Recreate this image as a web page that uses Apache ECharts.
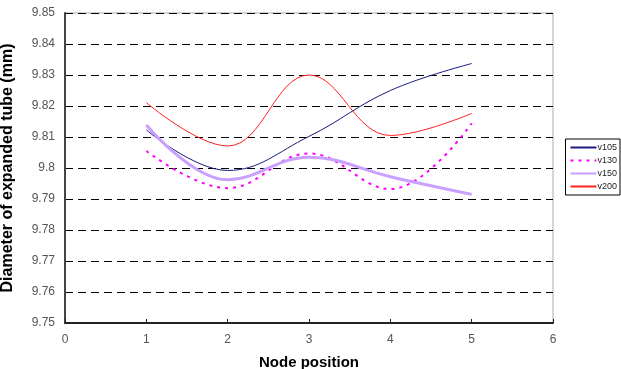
<!DOCTYPE html>
<html>
<head>
<meta charset="utf-8">
<script src="https://cdn.jsdelivr.net/npm/echarts@6/dist/echarts.min.js"></script>
<style>
  html, body { margin: 0; padding: 0; background: #fff; }
  #chart { width: 621px; height: 369px; }
</style>
</head>
<body>
<div id="chart"></div>
<script>
// node positions on the x axis
const positions = [1, 2, 3, 4, 5];

// tube diameters (mm)
const v105 = [9.8123, 9.7992, 9.8102, 9.8250, 9.8337];
const v130 = [9.8055, 9.7935, 9.8047, 9.7932, 9.8144];
const v150 = [9.8139, 9.7962, 9.8035, 9.7972, 9.7915];
const v200 = [9.8211, 9.8071, 9.8300, 9.8105, 9.8176];

const seriesNames = ['v105', 'v130', 'v150', 'v200'];

function pairs(vals) {
    return positions.map((p, i) => [p, vals[i]]);
}

const chart = echarts.init(document.getElementById('chart'));

const font = 'Liberation Sans, Arial, sans-serif';
const tickFont = { color: '#555', fontSize: 12, fontFamily: font };

chart.setOption({
    backgroundColor: '#fff',
    animation: false,
    grid: {
        left: 65,
        right: 68,
        top: 13,
        bottom: 46,
        outerBoundsMode: 'none',
        containLabel: false,
        show: true,
        borderColor: '#aaa',
        borderWidth: 1
    },
    legend: {
        orient: 'vertical',
        right: 1,
        top: 139,
        itemWidth: 26,
        itemHeight: 10,
        itemGap: 4,
        padding: [4, 3, 4, 4],
        backgroundColor: '#fff',
        borderColor: '#000',
        borderWidth: 1,
        borderRadius: 0,
        itemStyle: { opacity: 0 },
        textStyle: { fontSize: 9, color: '#222', padding: [0, 0, 0, -4], fontFamily: font },
        data: seriesNames
    },
    xAxis: {
        type: 'value',
        min: 0,
        max: 6,
        interval: 1,
        name: 'Node position',
        nameLocation: 'middle',
        nameGap: 32,
        nameTextStyle: { fontSize: 15, fontWeight: 'bold', color: '#000', fontFamily: font },
        axisLine: { show: true, lineStyle: { color: '#222', width: 2 } },
        axisTick: { show: true, inside: true, length: 4, lineStyle: { color: '#222' } },
        axisLabel: Object.assign({ margin: 11 }, tickFont),
        splitLine: { show: false }
    },
    yAxis: {
        type: 'value',
        min: 9.75,
        max: 9.85,
        interval: 0.01,
        name: 'Diameter of expanded tube (mm)',
        nameLocation: 'middle',
        nameGap: 49,
        nameTextStyle: { fontSize: 16, fontWeight: 'bold', color: '#000', fontFamily: font },
        axisLine: { show: true, lineStyle: { color: '#444', width: 2 } },
        axisTick: { show: false },
        axisLabel: Object.assign({
            margin: 10,
            formatter: v => String(parseFloat(v.toFixed(2)))
        }, tickFont),
        splitLine: { show: true, lineStyle: { color: '#000', type: [8, 5], width: 1 } }
    },
    series: [
        {
            name: 'v105',
            type: 'line',
            data: pairs(v105),
            smooth: 0.4,
            symbol: 'none',
            lineStyle: { color: '#1a1a80', width: 1 },
            itemStyle: { color: '#1a1a80' }
        },
        {
            name: 'v130',
            type: 'line',
            data: pairs(v130),
            smooth: 0.4,
            symbol: 'none',
            lineStyle: { color: '#ff00ff', width: 2, type: [3, 5] },
            itemStyle: { color: '#ff00ff' }
        },
        {
            name: 'v150',
            type: 'line',
            data: pairs(v150),
            smooth: 0.4,
            symbol: 'none',
            lineStyle: { color: '#c9a0ff', width: 3 },
            itemStyle: { color: '#c9a0ff' }
        },
        {
            name: 'v200',
            type: 'line',
            data: pairs(v200),
            smooth: 0.4,
            symbol: 'none',
            lineStyle: { color: '#ff2020', width: 1 },
            itemStyle: { color: '#ff2020' }
        }
    ]
});
</script>
</body>
</html>
